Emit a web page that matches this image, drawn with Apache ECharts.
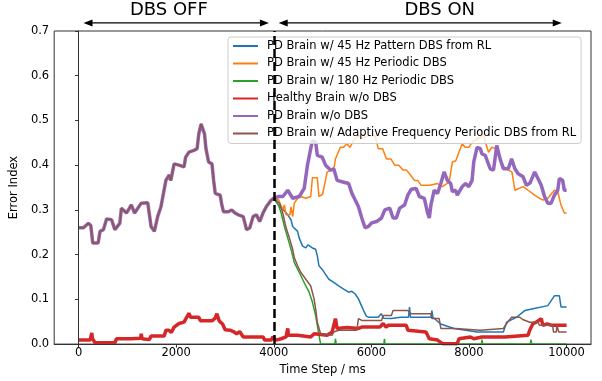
<!DOCTYPE html>
<html>
<head>
<meta charset="utf-8">
<script src="https://cdn.jsdelivr.net/npm/echarts@6/dist/echarts.min.js"></script>
<style>
  html, body { margin: 0; padding: 0; background: #fff; }
  #chart { width: 602px; height: 381px; }
</style>
</head>
<body>
<div id="chart"></div>
<script>
// time step (ms) where DBS is switched on
const dbsStart = 4000;

const xTicks = [0, 2000, 4000, 6000, 8000, 10000];
const yTicks = [0, 0.1, 0.2, 0.3, 0.4, 0.5, 0.6, 0.7];

// PD brain before DBS is turned on (shared by every PD run)
const preDBS = [
  [0, 0.26], [100, 0.26], [200, 0.27], [250, 0.265], [290, 0.226], [400, 0.226], [440, 0.252],
  [510, 0.256], [575, 0.28], [676, 0.278], [743, 0.256], [844, 0.27], [878, 0.304], [980, 0.293],
  [1081, 0.311], [1148, 0.293], [1215, 0.304], [1283, 0.315], [1417, 0.316], [1485, 0.263],
  [1553, 0.252], [1620, 0.285], [1688, 0.307], [1789, 0.366], [1856, 0.378], [1890, 0.366],
  [1957, 0.403], [2058, 0.4], [2160, 0.396], [2194, 0.418], [2261, 0.429], [2362, 0.433],
  [2429, 0.437], [2463, 0.47], [2510, 0.492], [2550, 0.492], [2580, 0.47], [2610, 0.437],
  [2665, 0.407], [2733, 0.403], [2767, 0.366], [2800, 0.337], [2901, 0.333], [2935, 0.311],
  [2969, 0.296], [3070, 0.296], [3137, 0.3], [3205, 0.293], [3272, 0.289], [3374, 0.285],
  [3441, 0.256], [3509, 0.26], [3576, 0.285], [3644, 0.289], [3711, 0.274], [3779, 0.293],
  [3846, 0.307], [3947, 0.322], [4000, 0.326]
];

// after DBS onset
const pattern45 = [
  [4100, 0.31], [4200, 0.3], [4286, 0.289], [4353, 0.278], [4387, 0.263], [4488, 0.252],
  [4522, 0.237], [4589, 0.219], [4656, 0.215], [4700, 0.222], [4791, 0.215], [4858, 0.212],
  [4892, 0.197], [4925, 0.175], [4993, 0.167], [5061, 0.156], [5128, 0.145], [5229, 0.138],
  [5330, 0.13], [5432, 0.123], [5533, 0.116], [5600, 0.118], [5668, 0.112], [5735, 0.101],
  [5780, 0.09], [5840, 0.075], [5900, 0.062], [5950, 0.06], [6141, 0.06], [6200, 0.068],
  [6250, 0.058], [6410, 0.057], [6600, 0.06], [6760, 0.06], [6781, 0.083], [6800, 0.06],
  [7220, 0.06], [7240, 0.075], [7260, 0.06], [7420, 0.045], [7456, 0.042], [7692, 0.035],
  [8165, 0.027], [8704, 0.027], [8771, 0.049], [8974, 0.06], [9143, 0.075], [9312, 0.079],
  [9615, 0.086], [9750, 0.108], [9852, 0.108], [9885, 0.083], [10000, 0.083]
];

const periodic45 = [
  [4100, 0.322], [4185, 0.3], [4218, 0.311], [4252, 0.289], [4330, 0.289], [4353, 0.307],
  [4387, 0.285], [4421, 0.315], [4488, 0.326], [4556, 0.33], [4656, 0.326], [4757, 0.33],
  [4791, 0.372], [4892, 0.372], [4925, 0.33], [5000, 0.335], [5094, 0.385], [5229, 0.39],
  [5263, 0.414], [5364, 0.44], [5430, 0.44], [5499, 0.448], [5560, 0.44], [5634, 0.455],
  [5735, 0.466], [5800, 0.46], [5938, 0.466], [6074, 0.466], [6141, 0.437], [6230, 0.437],
  [6309, 0.414], [6400, 0.414], [6477, 0.4], [6560, 0.4], [6646, 0.389], [6720, 0.389],
  [6781, 0.381], [6882, 0.366], [6950, 0.366], [7018, 0.355], [7200, 0.355], [7355, 0.359],
  [7456, 0.352], [7592, 0.362], [7659, 0.407], [7730, 0.41], [7794, 0.429], [7861, 0.448],
  [7920, 0.44], [7996, 0.44], [8063, 0.451], [8165, 0.459], [8232, 0.462], [8300, 0.47],
  [8340, 0.45], [8400, 0.429], [8468, 0.44], [8550, 0.437], [8637, 0.414], [8720, 0.395],
  [8805, 0.389], [8880, 0.385], [8940, 0.344], [9109, 0.352], [9210, 0.344], [9346, 0.333],
  [9447, 0.326], [9514, 0.322], [9615, 0.326], [9750, 0.344], [9818, 0.341], [9885, 0.311],
  [9953, 0.293], [10000, 0.293]
];

const periodic180 = [
  [4100, 0.31], [4151, 0.293], [4218, 0.263], [4286, 0.237], [4353, 0.212], [4421, 0.182],
  [4522, 0.16], [4589, 0.145], [4656, 0.13], [4724, 0.116], [4791, 0.094], [4858, 0.064],
  [4892, 0.042], [4925, 0.02], [4960, 0], [5250, 0], [5263, 0.012], [5280, 0], [6255, 0],
  [6268, 0.012], [6280, 0], [8255, 0], [8266, 0.01], [8280, 0], [9258, 0], [9270, 0.01],
  [9285, 0], [10000, 0]
];

const healthy = [
  [0, 0.009], [236, 0.009], [260, 0.012], [270, 0.025], [285, 0.012], [338, 0.003], [743, 0.003],
  [777, 0.012], [1081, 0.012], [1270, 0.013], [1283, 0.023], [1300, 0.012], [1451, 0.01],
  [1485, 0.018], [1755, 0.018], [1789, 0.031], [1850, 0.031], [1900, 0.026], [1957, 0.038],
  [2058, 0.046], [2160, 0.049], [2261, 0.069], [2295, 0.06], [2463, 0.06], [2497, 0.052],
  [2733, 0.052], [2800, 0.058], [2834, 0.068], [2880, 0.052], [2950, 0.045], [3003, 0.032],
  [3104, 0.031], [3170, 0.028], [3239, 0.023], [3300, 0.028], [3374, 0.016], [3779, 0.016],
  [3813, 0.009], [3947, 0.009], [3981, 0.016], [4049, 0.009], [4150, 0.012], [4252, 0.016],
  [4286, 0.035], [4300, 0.02], [4488, 0.02], [4520, 0.016], [4757, 0.016], [4825, 0.023],
  [5094, 0.02], [5196, 0.027], [5263, 0.057], [5297, 0.035], [5500, 0.037], [5735, 0.035],
  [5803, 0.038], [6174, 0.038], [6241, 0.046], [6300, 0.038], [6343, 0.042], [6714, 0.042],
  [6747, 0.031], [6781, 0.027], [7119, 0.027], [7186, 0.012], [7355, 0.009], [7456, 0.001],
  [7760, 0.001], [7794, 0.012], [7827, 0.016], [8030, 0.016], [8097, 0.012], [8266, 0.016],
  [8738, 0.016], [8771, 0.02], [9210, 0.02], [9244, 0.031], [9312, 0.046], [9379, 0.049],
  [9480, 0.057], [9514, 0.042], [9600, 0.045], [9700, 0.042], [10000, 0.042]
];

const noDBS = [
  [4100, 0.33], [4185, 0.33], [4286, 0.344], [4387, 0.326], [4522, 0.33], [4623, 0.348],
  [4690, 0.4], [4757, 0.437], [4791, 0.455], [4858, 0.451], [4892, 0.422], [4993, 0.418],
  [5061, 0.4], [5162, 0.389], [5229, 0.392], [5297, 0.366], [5398, 0.363], [5533, 0.359],
  [5601, 0.337], [5668, 0.322], [5735, 0.307], [5803, 0.282], [5870, 0.26], [5938, 0.263],
  [6005, 0.271], [6107, 0.274], [6208, 0.282], [6275, 0.3], [6376, 0.304], [6444, 0.282],
  [6511, 0.282], [6579, 0.304], [6680, 0.311], [6747, 0.333], [6815, 0.346], [6916, 0.348],
  [6983, 0.33], [7018, 0.333], [7085, 0.326], [7152, 0.293], [7186, 0.282], [7220, 0.311],
  [7287, 0.344], [7355, 0.337], [7423, 0.359], [7490, 0.385], [7557, 0.366], [7625, 0.359],
  [7659, 0.341], [7726, 0.344], [7760, 0.333], [7861, 0.352], [7929, 0.359], [7996, 0.352],
  [8063, 0.366], [8097, 0.407], [8165, 0.44], [8232, 0.437], [8266, 0.425], [8333, 0.422],
  [8434, 0.392], [8502, 0.389], [8569, 0.444], [8637, 0.414], [8704, 0.392], [8805, 0.392],
  [8873, 0.414], [8940, 0.392], [9008, 0.381], [9109, 0.374], [9176, 0.355], [9250, 0.36],
  [9346, 0.385], [9413, 0.37], [9480, 0.355], [9548, 0.33], [9615, 0.315], [9683, 0.315],
  [9750, 0.333], [9818, 0.344], [9852, 0.37], [9919, 0.366], [9953, 0.344], [10000, 0.344]
];

const adaptive = [
  [4117, 0.315], [4185, 0.293], [4252, 0.26], [4320, 0.237], [4387, 0.212], [4421, 0.193],
  [4488, 0.175], [4556, 0.16], [4656, 0.145], [4757, 0.13], [4825, 0.101], [4858, 0.079],
  [4892, 0.049], [4959, 0.023], [5196, 0.02], [5229, 0.027], [5330, 0.031], [5702, 0.031],
  [5735, 0.057], [5803, 0.053], [6208, 0.053], [6241, 0.064], [6410, 0.064], [6444, 0.075],
  [6747, 0.075], [6815, 0.068], [7220, 0.068], [7240, 0.057], [7389, 0.057], [7423, 0.035],
  [7726, 0.035], [7760, 0.031], [8232, 0.031], [8266, 0.035], [8704, 0.035], [8771, 0.046],
  [8873, 0.06], [9042, 0.06], [9100, 0.055], [9244, 0.049], [9413, 0.049], [9447, 0.042],
  [9716, 0.042], [9730, 0.027], [9790, 0.027], [9800, 0.042], [9830, 0.042], [9840, 0.027],
  [10000, 0.027]
];

const names = [
  'PD Brain w/ 45 Hz Pattern DBS from RL',
  'PD Brain w/ 45 Hz Periodic DBS',
  'PD Brain w/ 180 Hz Periodic DBS',
  'Healthy Brain w/o DBS',
  'PD Brain w/o DBS',
  'PD Brain w/ Adaptive Frequency Periodic DBS from RL'
];

const font = '"DejaVu Sans", sans-serif';

const line = (name, data, color, width) => ({
  name,
  type: 'line',
  data,
  symbol: 'none',
  lineStyle: { color, width },
  itemStyle: { color },
  z: 2
});

const axisCommon = {
  z: 3,
  axisLine: { show: true, lineStyle: { color: '#333', width: 1 } },
  axisTick: { show: true, length: 3.5, lineStyle: { color: '#333' } },
  splitLine: { show: false },
  nameTextStyle: { fontFamily: font, fontSize: 11.5, color: '#000' }
};

const option = {
  animation: false,
  grid: { left: 49, right: 11, top: 31, bottom: 34, show: true, borderColor: '#333', borderWidth: 1 },
  xAxis: {
    ...axisCommon,
    type: 'value',
    min: -500,
    max: 10500,
    name: 'Time Step / ms',
    nameLocation: 'middle',
    nameGap: 14,
    axisTick: { ...axisCommon.axisTick, customValues: xTicks },
    axisLabel: {
      customValues: xTicks, margin: 3, fontFamily: font, fontSize: 11.5, color: '#000',
      formatter: v => String(v)
    }
  },
  yAxis: {
    ...axisCommon,
    type: 'value',
    min: 0,
    max: 0.7,
    name: 'Error Index',
    nameLocation: 'middle',
    nameGap: 18,
    axisTick: { ...axisCommon.axisTick, customValues: yTicks },
    axisLabel: {
      customValues: yTicks, margin: 5, fontFamily: font, fontSize: 11.5, color: '#000',
      formatter: v => v.toFixed(1)
    }
  },
  legend: {
    data: names,
    orient: 'vertical',
    left: 228,
    top: 37,
    itemWidth: 25,
    itemHeight: 10,
    itemGap: 5.5,
    padding: [3, 5, 4, 4],
    backgroundColor: 'rgba(255,255,255,0.8)',
    borderColor: '#ccc',
    borderWidth: 1,
    borderRadius: 3,
    itemStyle: { opacity: 0 },
    textStyle: { fontFamily: font, fontSize: 11.5, color: '#000', padding: [0, 0, 0, 4] }
  },
  series: [
    line(names[0], preDBS.concat(pattern45), '#1f77b4', 1.5),
    line(names[1], preDBS.concat(periodic45), '#ff7f0e', 1.5),
    line(names[2], preDBS.concat(periodic180), '#2ca02c', 1.5),
    line(names[3], healthy, '#d62728', 3.5),
    line(names[4], preDBS.concat(noDBS), '#9467bd', 3.5),
    line(names[5], preDBS.concat(adaptive), '#8c564b', 1.5),
    {
      name: 'dbs onset',
      type: 'line',
      data: [],
      z: 6,
      markLine: {
        silent: true,
        symbol: 'none',
        label: { show: false },
        lineStyle: { color: '#000', width: 2.5, type: [9, 4] },
        data: [{ xAxis: dbsStart }]
      }
    }
  ]
};

const chart = echarts.init(document.getElementById('chart'));
chart.setOption(option);

// DBS OFF / DBS ON arrows above the axes
const px = p => chart.convertToPixel({ gridIndex: 0 }, p);
const arrowY = 0.718;
const textY = 0.746;
const shrink = 100;
const spans = [
  { from: 0, to: dbsStart, text: 'DBS OFF', at: 1850 },
  { from: dbsStart, to: 10000, text: 'DBS ON', at: 7400 }
];
const graphic = [];
spans.forEach(s => {
  const a = px([s.from + shrink, arrowY]);
  const b = px([s.to - shrink, arrowY]);
  const t = px([s.at, textY]);
  graphic.push({
    type: 'line',
    shape: { x1: a[0] + 6, y1: a[1], x2: b[0] - 6, y2: b[1] },
    style: { stroke: '#000', lineWidth: 1.3 }
  });
  graphic.push({
    type: 'polygon',
    shape: { points: [[a[0], a[1]], [a[0] + 9, a[1] - 3.5], [a[0] + 9, a[1] + 3.5]] },
    style: { fill: '#000' }
  });
  graphic.push({
    type: 'polygon',
    shape: { points: [[b[0], b[1]], [b[0] - 9, b[1] - 3.5], [b[0] - 9, b[1] + 3.5]] },
    style: { fill: '#000' }
  });
  graphic.push({
    type: 'text',
    style: {
      text: s.text, x: t[0], y: t[1], fill: '#000',
      font: '18px ' + font, align: 'center', verticalAlign: 'middle'
    }
  });
});
chart.setOption({ graphic });
</script>
</body>
</html>
